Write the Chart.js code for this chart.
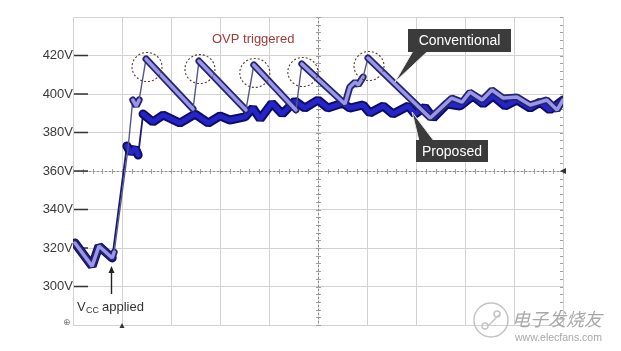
<!DOCTYPE html>
<html>
<head>
<meta charset="utf-8">
<script src="https://cdn.jsdelivr.net/npm/chart.js@4.4.1/dist/chart.umd.min.js"></script>
<style>
  html, body { margin: 0; padding: 0; background: #fff; }
  #wrap { width: 621px; height: 351px; position: relative; }
</style>
</head>
<body>
<div id="wrap"><canvas id="scope" width="621" height="351"></canvas></div>
<script>
// ── Data (time in scope divisions, voltage in V) ────────────────────────────
const convTime = [0.04, 0.39, 0.53, 0.80, 0.84, 1.12, 1.22, 1.29, 1.35, 1.49,
  2.45, 2.57, 3.53, 3.69, 4.55, 4.67, 5.55, 5.65, 5.76, 5.82, 5.92, 6.02,
  7.29, 7.73, 7.94, 8.10, 8.35, 8.55, 8.78, 9.06, 9.33, 9.67, 9.88, 10.0];
const convVolt = [322.6, 310.6, 321.0, 314.8, 317.9, 370.9, 396.9, 393.8, 396.9, 418.2,
  392.2, 417.1, 391.7, 415.1, 391.7, 415.6, 394.8, 403.6, 406.2, 404.7, 408.8, 418.7,
  387.5, 397.9, 395.8, 401.0, 396.9, 402.1, 397.9, 398.4, 394.3, 396.9, 391.7, 396.9];

const propTime = [0.04, 0.39, 0.53, 0.80, 1.10, 1.18, 1.27, 1.33, 1.43, 1.63,
  1.84, 2.18, 2.49, 2.76, 3.00, 3.20, 3.51, 3.67, 3.82, 4.06, 4.27, 4.53, 4.73,
  5.00, 5.20, 5.51, 5.65, 5.92, 6.06, 6.33, 6.53, 6.84, 6.98, 7.18, 7.35, 7.63,
  7.90, 8.16, 8.37, 8.57, 8.82, 9.06, 9.33, 9.53, 9.73, 10.0];
const propVolt = [322.6, 310.6, 321.0, 314.8, 373.0, 369.3, 372.0, 368.3, 389.6, 385.5,
  389.1, 384.9, 389.6, 384.9, 388.6, 386.5, 388.1, 392.7, 387.0, 395.3, 389.6, 396.4, 392.7,
  396.9, 392.7, 395.3, 392.7, 394.3, 390.1, 393.8, 389.6, 393.8, 389.6, 393.2, 387.5, 394.8,
  393.8, 399.0, 394.8, 399.0, 393.8, 396.9, 392.7, 395.8, 391.7, 396.9];

const yTicks = [300, 320, 340, 360, 380, 400, 420];
const ovpPeaks = [9, 11, 13, 15, 21];           // indices into conv arrays
const vccAppliedT = 0.80;                       // time Vcc is applied
const convLabelAt = { t: 6.57, v: 406.2 };     // callout pointer tips
const propLabelAt = { t: 6.92, v: 390.6 };

// ── Helpers ─────────────────────────────────────────────────────────────────
const toXY = (ts, vs) => ts.map((t, i) => ({ x: t, y: vs[i] }));
const steep = ctx => (ctx.p1.parsed.y - ctx.p0.parsed.y) / (ctx.p1.parsed.x - ctx.p0.parsed.x) > 95;

function band(data, color, width, thinColor, thinWidth, order) {
  return {
    data, order,
    borderColor: color,
    borderWidth: width,
    borderJoinStyle: 'bevel',
    borderCapStyle: 'round',
    pointRadius: 0,
    tension: 0,
    segment: {
      borderColor: ctx => steep(ctx) ? thinColor : undefined,
      borderWidth: ctx => steep(ctx) ? thinWidth : undefined
    }
  };
}

// ── Overlay plugin: crosshair, tick dashes, circles, callouts, texts ────────
const overlay = {
  id: 'overlay',
  beforeDatasetsDraw(chart) {
    const { ctx, chartArea: a, scales: { x, y } } = chart;
    ctx.save();
    // centre crosshair (dotted with minor ticks)
    const cx = x.getPixelForValue(5), cy = y.getPixelForValue(360);
    ctx.strokeStyle = '#8a8a8a';
    ctx.lineWidth = 1;
    ctx.setLineDash([2, 2]);
    ctx.beginPath();
    ctx.moveTo(a.left, cy + 0.5); ctx.lineTo(a.right, cy + 0.5);
    ctx.moveTo(cx + 0.5, a.top); ctx.lineTo(cx + 0.5, a.bottom);
    ctx.stroke();
    ctx.setLineDash([]);
    ctx.strokeStyle = '#a0a0a0';
    ctx.beginPath();
    for (let t = 0; t <= 10; t += 0.2) {
      const px = Math.round(x.getPixelForValue(t)) + 0.5;
      ctx.moveTo(px, cy - 2); ctx.lineTo(px, cy + 3);
    }
    for (let v = 280; v <= 440; v += 4) {
      const py = Math.round(y.getPixelForValue(v)) + 0.5;
      ctx.moveTo(cx - 2, py); ctx.lineTo(cx + 3, py);
      ctx.moveTo(a.right - 3, py); ctx.lineTo(a.right, py);
    }
    ctx.stroke();
    // tick dashes next to the labels
    ctx.strokeStyle = '#333';
    ctx.lineWidth = 1.6;
    ctx.beginPath();
    yTicks.forEach(v => {
      const py = y.getPixelForValue(v);
      ctx.moveTo(a.left + 1, py); ctx.lineTo(a.left + 15, py);
    });
    ctx.stroke();
    ctx.restore();
  },
  afterDatasetsDraw(chart) {
    const { ctx, chartArea: a, scales: { x, y } } = chart;
    ctx.save();
    // OVP circles
    ctx.strokeStyle = '#5a3a2e';
    ctx.lineWidth = 1.1;
    ctx.setLineDash([2, 2]);
    ovpPeaks.forEach(i => {
      const px = x.getPixelForValue(convTime[i]) + 1;
      const py = y.getPixelForValue(convVolt[i]) + 8;
      ctx.beginPath();
      ctx.ellipse(px, py, 15, 14.5, 0, 0, Math.PI * 2);
      ctx.stroke();
    });
    ctx.setLineDash([]);

    // callouts
    const callout = (text, bx, by, bw, bh, tip, b0, b1) => {
      const tx = x.getPixelForValue(tip.t), ty = y.getPixelForValue(tip.v);
      ctx.fillStyle = '#3b3b3b';
      ctx.strokeStyle = '#e8e8e8';
      ctx.lineWidth = 1;
      ctx.beginPath();
      ctx.moveTo(tx, ty); ctx.lineTo(b0[0], b0[1]); ctx.lineTo(b1[0], b1[1]); ctx.closePath();
      ctx.fill(); ctx.stroke();
      ctx.fillRect(bx, by, bw, bh);
      ctx.fillStyle = '#fff';
      ctx.font = '14px "Liberation Sans", Arial, sans-serif';
      ctx.textAlign = 'center';
      ctx.textBaseline = 'middle';
      ctx.fillText(text, bx + bw / 2, by + bh / 2 + 1);
    };
    callout('Conventional', 408, 29, 103, 23, convLabelAt, [413, 51], [428, 51]);
    callout('Proposed', 416, 140, 72, 22, propLabelAt, [419, 141], [434, 141]);

    // OVP triggered text
    ctx.fillStyle = '#a33a3a';
    ctx.font = '13px "Liberation Sans", Arial, sans-serif';
    ctx.textAlign = 'left';
    ctx.textBaseline = 'alphabetic';
    ctx.fillText('OVP triggered', 212, 43);

    // Vcc applied arrow + label
    const ax = Math.round(x.getPixelForValue(vccAppliedT)) - 0.5;
    const ay = y.getPixelForValue(propVolt[3]) + 8;
    ctx.strokeStyle = '#222';
    ctx.fillStyle = '#222';
    ctx.lineWidth = 1.4;
    ctx.beginPath(); ctx.moveTo(ax, ay + 4); ctx.lineTo(ax, ay + 28); ctx.stroke();
    ctx.beginPath(); ctx.moveTo(ax, ay); ctx.lineTo(ax - 3, ay + 7); ctx.lineTo(ax + 3, ay + 7); ctx.closePath(); ctx.fill();
    ctx.fillStyle = '#333';
    ctx.font = '13px "Liberation Sans", Arial, sans-serif';
    ctx.fillText('V', 77, 311);
    ctx.font = '9px "Liberation Sans", Arial, sans-serif';
    ctx.fillText('CC', 86, 313);
    ctx.font = '13px "Liberation Sans", Arial, sans-serif';
    ctx.fillText('applied', 102, 311);

    // small scope markers
    const trg = x.getPixelForValue(1);
    ctx.fillStyle = '#333';
    ctx.beginPath(); ctx.moveTo(trg - 2.5, a.bottom + 3); ctx.lineTo(trg + 2.5, a.bottom + 3); ctx.lineTo(trg, a.bottom - 2); ctx.closePath(); ctx.fill();
    const lv = y.getPixelForValue(360);
    ctx.beginPath(); ctx.moveTo(a.right - 3, lv); ctx.lineTo(a.right + 3, lv - 3); ctx.lineTo(a.right + 3, lv + 3); ctx.closePath(); ctx.fill();
    ctx.fillStyle = '#777';
    ctx.font = '9px "DejaVu Sans", sans-serif';
    ctx.fillText('⊕', 63, 325);

    // watermark
    ctx.strokeStyle = '#c4c4c4';
    ctx.lineWidth = 1.5;
    ctx.beginPath(); ctx.arc(491, 320, 17, 0, Math.PI * 2); ctx.stroke();
    ctx.beginPath(); ctx.arc(485, 326, 3, 0, Math.PI * 2); ctx.arc(497, 314, 3, 0, Math.PI * 2); ctx.stroke();
    ctx.fillStyle = '#a8a8a8';
    ctx.font = 'italic 18px "Noto Sans CJK SC", sans-serif';
    ctx.fillText('电子发烧友', 512, 326);
    ctx.font = '10.5px "Liberation Sans", Arial, sans-serif';
    ctx.fillText('www.elecfans.com', 515, 341);
    ctx.restore();
  }
};

// ── Chart ───────────────────────────────────────────────────────────────────
new Chart(document.getElementById('scope'), {
  type: 'line',
  data: {
    datasets: [
      band(toXY(convTime, convVolt), '#9a96ea', 3.5, 'rgba(0,0,0,0)', 0, 0),
      band(toXY(convTime, convVolt), '#24246e', 7, '#55558a', 1.4, 1),
      band(toXY(propTime, propVolt), '#2424c8', 5, 'rgba(0,0,0,0)', 0, 2),
      band(toXY(propTime, propVolt), '#0d0d66', 9, '#1a1a70', 1.8, 3)
    ]
  },
  options: {
    responsive: false,
    animation: false,
    layout: { padding: { left: 0, right: 58, top: 17, bottom: 26 } },
    plugins: { legend: { display: false }, tooltip: { enabled: false } },
    scales: {
      x: {
        type: 'linear', min: 0, max: 10,
        ticks: { stepSize: 1, display: false },
        grid: { color: '#d2d2d2', drawTicks: false },
        border: { display: false },
        afterFit: s => { s.height = 0; }
      },
      y: {
        min: 280, max: 440,
        ticks: {
          stepSize: 20, padding: 0,
          color: '#3a3a3a',
          font: { family: '"Liberation Sans", Arial, sans-serif', size: 13 },
          callback: v => yTicks.includes(v) ? v + 'V' : ''
        },
        grid: { color: '#d2d2d2', drawTicks: false },
        border: { display: false },
        afterFit: s => { s.width = 73; }
      }
    }
  },
  plugins: [overlay]
});
</script>
</body>
</html>
